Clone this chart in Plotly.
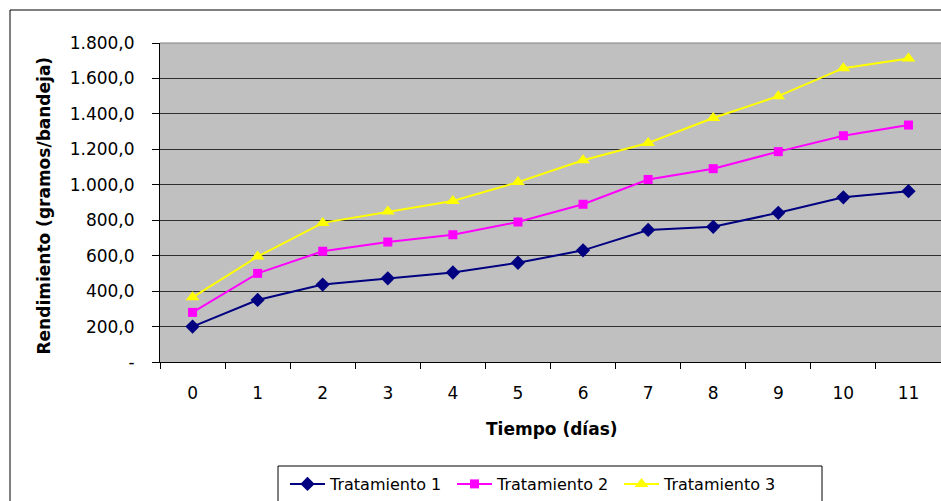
import plotly.graph_objects as go

# Days of measurement (categories on the x axis)
dias = ["0", "1", "2", "3", "4", "5", "6", "7", "8", "9", "10", "11"]

# Yield per tray (grams) for each treatment
tratamiento_1 = [200, 350, 437, 472, 505, 560, 630, 745, 763, 842, 929, 964]
tratamiento_2 = [280, 500, 625, 677, 718, 790, 890, 1030, 1091, 1187, 1277, 1337]
tratamiento_3 = [365, 595, 785, 849, 909, 1015, 1138, 1236, 1377, 1500, 1658, 1712]

# Y axis tick values and their Spanish-formatted labels
y_ticks = [0, 200, 400, 600, 800, 1000, 1200, 1400, 1600, 1800]
y_labels = ["-", "200,0", "400,0", "600,0", "800,0", "1.000,0",
            "1.200,0", "1.400,0", "1.600,0", "1.800,0"]

FONT = "DejaVu Sans"

# pixel -> paper helpers for a plot area spanning x 160..941, y 43..362
def px(x):
    return (x - 160) / 781

def py(y):
    return (362 - y) / 319

fig = go.Figure()

series = [
    ("Tratamiento 1", tratamiento_1, "#000080", "diamond", 11),
    ("Tratamiento 2", tratamiento_2, "#FF00FF", "square", 9),
    ("Tratamiento 3", tratamiento_3, "#FFFF00", "triangle-up", 12),
]
for name, vals, color, symbol, size in series:
    fig.add_trace(go.Scatter(
        x=dias, y=vals, name=name, mode="lines+markers",
        line=dict(color=color, width=2),
        marker=dict(symbol=symbol, size=size, color=color,
                    line=dict(width=0)),
        cliponaxis=False,
    ))

fig.update_layout(
    width=941, height=501,
    margin=dict(l=160, r=0, t=43, b=139),
    paper_bgcolor="white",
    plot_bgcolor="#C0C0C0",
    font=dict(family=FONT, size=17, color="black"),
    showlegend=True,
    legend=dict(
        orientation="h",
        x=px(285), xanchor="left",
        y=py(467), yanchor="top",
        borderwidth=0,
        bgcolor="rgba(0,0,0,0)",
        font=dict(family=FONT, size=16, color="black"),
        itemwidth=35,
        entrywidth=117, entrywidthmode="pixels",
    ),
)

fig.update_xaxes(
    type="category",
    range=[-0.5, 11.5],
    tickson="boundaries",
    ticks="outside", ticklen=6, tickcolor="black", tickwidth=1,
    ticklabelstandoff=16,
    showgrid=False,
    showline=True, linecolor="black", linewidth=1,
    zeroline=False,
    tickfont=dict(family=FONT, size=17, color="black"),
)

fig.update_yaxes(
    range=[0, 1800],
    tickvals=y_ticks, ticktext=y_labels,
    ticks="outside", ticklen=7, tickcolor="black", tickwidth=1,
    ticklabelstandoff=14,
    showgrid=True, gridcolor="#303030", gridwidth=1,
    showline=True, linecolor="black", linewidth=1,
    zeroline=False,
    tickfont=dict(family=FONT, size=17, color="black"),
)

# Axis titles
fig.add_annotation(
    text="<b>Tiempo (días)</b>", xref="paper", yref="paper",
    x=px(551.5), y=py(428.5),
    xanchor="center", yanchor="middle", showarrow=False,
    font=dict(family=FONT, size=17, color="black"),
)
fig.add_annotation(
    text="<b>Rendimiento (gramos/bandeja)</b>", xref="paper", yref="paper",
    x=px(44), y=py(205.5), textangle=-90,
    xanchor="center", yanchor="middle", showarrow=False,
    font=dict(family=FONT, size=17, color="black"),
)

# Gray border on the top edge of the plot area
fig.add_shape(type="line", xref="paper", yref="paper",
              x0=0, x1=1, y0=1, y1=1,
              line=dict(color="#808080", width=1), layer="above")

# Outer frame of the chart
fig.add_shape(type="rect", xref="paper", yref="paper",
              x0=px(10), x1=1.2, y0=-0.8, y1=py(10),
              line=dict(color="black", width=1), layer="below")

# Legend frame
fig.add_shape(type="rect", xref="paper", yref="paper",
              x0=px(278), x1=px(822), y0=-0.8, y1=py(466),
              line=dict(color="black", width=1), fillcolor="white",
              layer="below")

fig.write_html("out.html")
